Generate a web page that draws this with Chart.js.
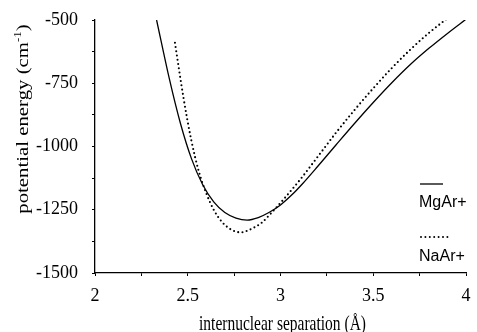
<!DOCTYPE html>
<html>
<head>
<meta charset="utf-8">
<script src="https://cdn.jsdelivr.net/npm/chart.js@4/dist/chart.umd.min.js"></script>
<style>
    html, body { margin: 0; padding: 0; background: #fff; }
    #wrap { width: 477px; height: 332px; }
</style>
</head>
<body>
<div id="wrap"><canvas id="pot-chart"></canvas></div>
<script>
// MgAr+ curve (solid)
const mgArR = [2.332, 2.40, 2.46, 2.52, 2.58, 2.64, 2.70, 2.76, 2.82, 2.88, 2.94, 3.00, 3.06, 3.12, 3.20, 3.30, 3.40, 3.50, 3.60, 3.70, 3.80, 3.90, 4.00];
const mgArE = [-500, -730, -907, -1048, -1150, -1219, -1261, -1283, -1291, -1281, -1260, -1231, -1192, -1146, -1079, -993, -908, -826, -748, -676, -612, -553, -497];

// NaAr+ curve (dotted)
const naArR = [2.431, 2.476, 2.518, 2.559, 2.602, 2.643, 2.683, 2.724, 2.767, 2.789, 2.81, 2.853, 2.899, 2.94, 2.979, 3.02, 3.064, 3.12, 3.20, 3.30, 3.40, 3.50, 3.60, 3.70, 3.80, 3.895];
const naArE = [-590, -803, -971, -1097, -1189, -1254, -1297, -1324, -1338, -1339, -1336, -1322, -1301, -1271, -1240, -1206, -1168, -1118, -1041, -945, -855, -770, -690, -617, -551, -496];

const xTicks = [2, 2.5, 3, 3.5, 4];
const yTicks = [-500, -750, -1000, -1250, -1500];
const seriesNames = ['MgAr+', 'NaAr+'];

const serif = '"Liberation Serif", "Times New Roman", serif';
const sans = '"Liberation Sans", Arial, sans-serif';

const toPoints = (xs, ys) => xs.map((x, i) => ({ x: x, y: ys[i] }));

// major ticks plus one minor tick between each pair
const withMinor = (major) => {
    const t = [];
    for (let i = 0; i < major.length; i++) {
        t.push({ value: major[i] });
        if (i < major.length - 1) t.push({ value: (major[i] + major[i + 1]) / 2 });
    }
    return t;
};

// axis titles + legend, drawn by hand (superscript, stacked legend)
const extrasPlugin = {
    id: 'extras',
    afterDraw(chart) {
        const ctx = chart.ctx;
        const area = chart.chartArea;
        ctx.save();
        ctx.fillStyle = '#000';

        // x title
        ctx.save();
        ctx.translate((area.left + area.right) / 2 + 2, 325);
        ctx.scale(1, 1.3);
        ctx.font = '15.5px ' + serif;
        ctx.textAlign = 'center';
        ctx.textBaseline = 'middle';
        ctx.fillText('internuclear separation (Å)', 0, 0);
        ctx.restore();

        // y title with superscript
        ctx.save();
        ctx.translate(23, 119);
        ctx.rotate(-Math.PI / 2);
        ctx.scale(1.3, 1);
        ctx.textBaseline = 'alphabetic';
        ctx.font = '16px ' + serif;
        const mainTxt = 'potential energy (cm';
        const supTxt = '-1';
        const endTxt = ')';
        const w1 = ctx.measureText(mainTxt).width;
        const w3 = ctx.measureText(endTxt).width;
        ctx.font = '10px ' + serif;
        const w2 = ctx.measureText(supTxt).width;
        let x0 = -(w1 + w2 + w3) / 2;
        ctx.font = '16px ' + serif;
        ctx.fillText(mainTxt, x0, 5);
        ctx.font = '10px ' + serif;
        ctx.fillText(supTxt, x0 + w1, -2);
        ctx.font = '16px ' + serif;
        ctx.fillText(endTxt, x0 + w1 + w2, 5);
        ctx.restore();

        // legend
        ctx.strokeStyle = '#000';
        ctx.lineWidth = 1.3;
        ctx.beginPath();
        ctx.moveTo(420, 184);
        ctx.lineTo(443, 184);
        ctx.stroke();

        ctx.lineWidth = 2;
        ctx.lineCap = 'round';
        ctx.setLineDash([0, 4.4]);
        ctx.beginPath();
        ctx.moveTo(421, 237);
        ctx.lineTo(448, 237);
        ctx.stroke();
        ctx.setLineDash([]);

        ctx.font = '16px ' + sans;
        ctx.textAlign = 'left';
        ctx.textBaseline = 'middle';
        ctx.fillText(seriesNames[0], 419, 203);
        ctx.fillText(seriesNames[1], 419, 257);
        ctx.restore();
    }
};

new Chart(document.getElementById('pot-chart'), {
    type: 'line',
    data: {
        datasets: [{
            label: seriesNames[0],
            data: toPoints(mgArR, mgArE),
            borderColor: '#000',
            borderWidth: 1.3,
            pointRadius: 0,
            cubicInterpolationMode: 'monotone',
            fill: false
        }, {
            label: seriesNames[1],
            data: toPoints(naArR, naArE),
            borderColor: '#000',
            borderWidth: 2.1,
            borderDash: [0, 4.3],
            borderCapStyle: 'round',
            pointRadius: 0,
            cubicInterpolationMode: 'monotone',
            fill: false
        }]
    },
    options: {
        responsive: true,
        maintainAspectRatio: false,
        animation: false,
        layout: { padding: { left: 0, right: 11, top: 20, bottom: 0 } },
        plugins: {
            legend: { display: false },
            tooltip: { enabled: false }
        },
        scales: {
            x: {
                type: 'linear',
                min: 2,
                max: 4,
                afterBuildTicks: (scale) => { scale.ticks = withMinor(xTicks); },
                // fixed axis band; let layout padding alone set the plot edges
                afterFit: (scale) => {
                    scale.height = 59;
                    scale.paddingLeft = 0;
                    scale.paddingRight = 0;
                },
                border: { display: true, color: '#000', width: 1.3 },
                grid: { drawOnChartArea: false, drawTicks: true, tickLength: 3, color: '#000', lineWidth: 1 },
                ticks: {
                    color: '#000',
                    font: { family: serif, size: 18 },
                    padding: 9,
                    maxRotation: 0,
                    autoSkip: false,
                    callback: (v) => xTicks.includes(v) ? String(v) : ''
                }
            },
            y: {
                min: -1500,
                max: -500,
                afterBuildTicks: (scale) => { scale.ticks = withMinor(yTicks); },
                afterFit: (scale) => {
                    scale.width = 95;
                    scale.paddingTop = 0;
                    scale.paddingBottom = 0;
                },
                border: { display: true, color: '#000', width: 1.3 },
                grid: { drawOnChartArea: false, drawTicks: true, tickLength: 3, color: '#000', lineWidth: 1 },
                ticks: {
                    color: '#000',
                    font: { family: serif, size: 18 },
                    padding: 14,
                    autoSkip: false,
                    callback: (v) => yTicks.includes(v) ? String(v) : ''
                }
            }
        }
    },
    plugins: [extrasPlugin]
});
</script>
</body>
</html>
